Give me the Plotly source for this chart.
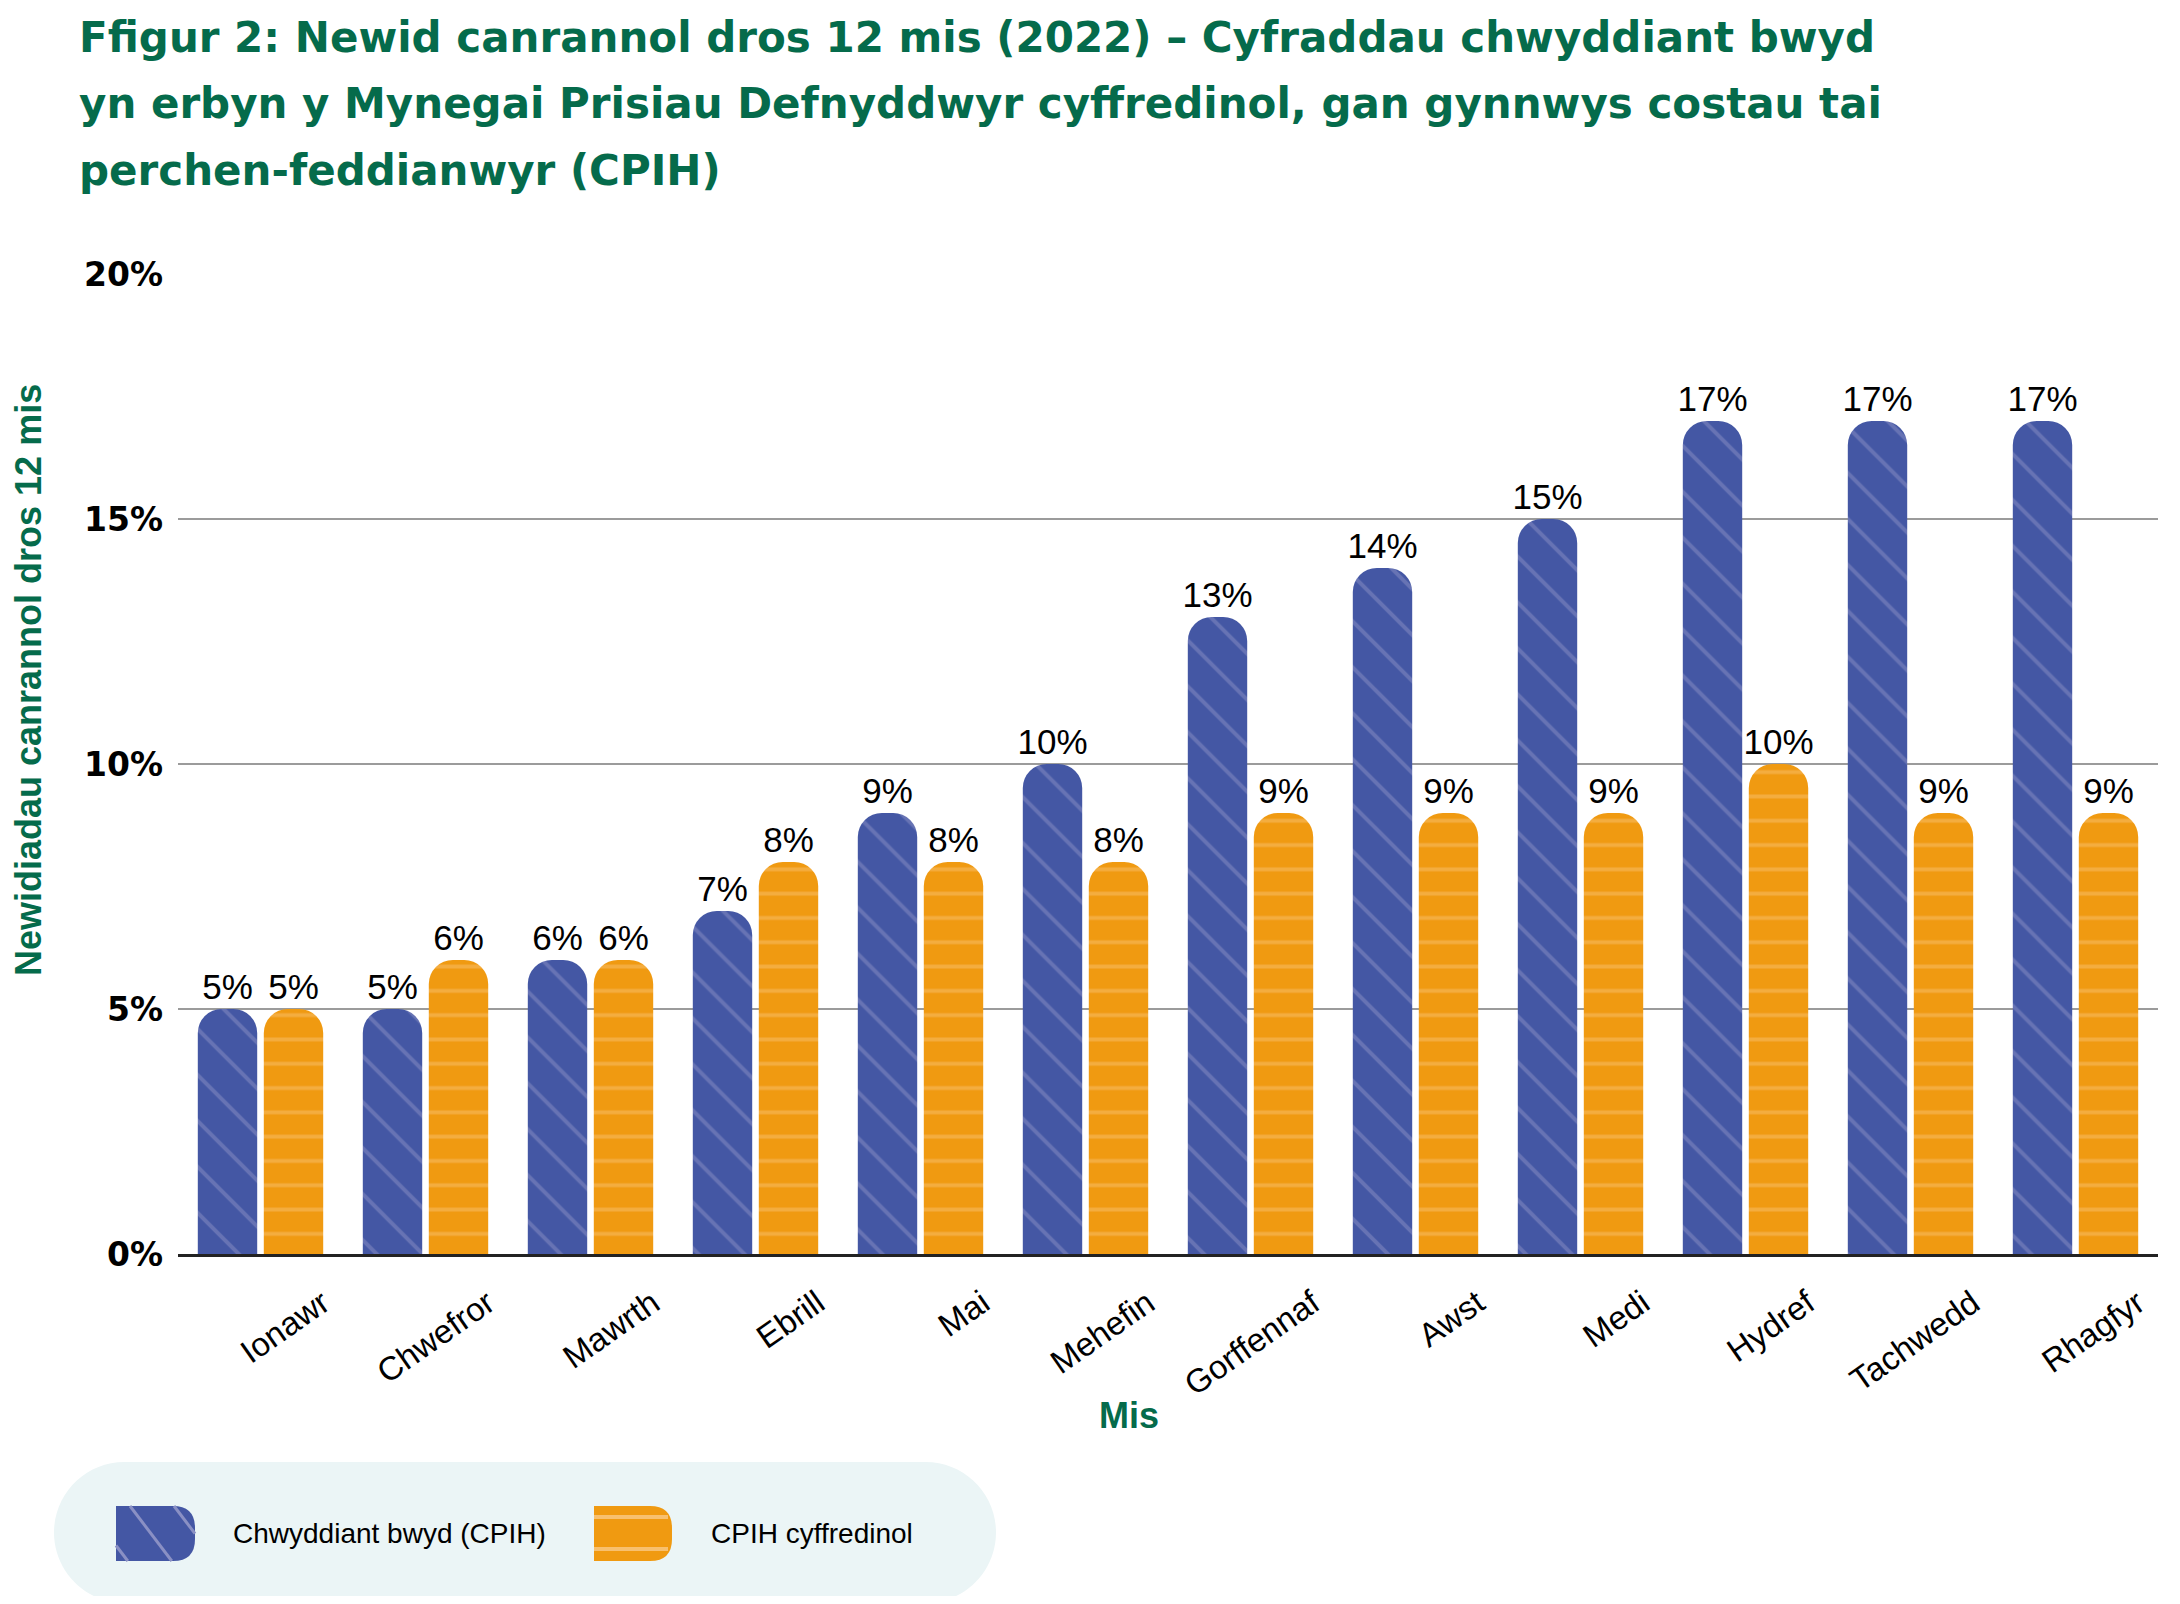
import plotly.graph_objects as go

months = ["Ionawr", "Chwefror", "Mawrth", "Ebrill", "Mai", "Mehefin",
          "Gorffennaf", "Awst", "Medi", "Hydref", "Tachwedd", "Rhagfyr"]
food_cpih = [5, 5, 6, 7, 9, 10, 13, 14, 15, 17, 17, 17]
cpih_overall = [5, 6, 6, 8, 8, 8, 9, 9, 9, 10, 9, 9]
series_names = ["Chwyddiant bwyd (CPIH)", "CPIH cyffredinol"]
y_ticks = [0, 5, 10, 15, 20]
y_ticktext = [f"{v}%" for v in y_ticks]

title_lines = [
    "Ffigur 2: Newid canrannol dros 12 mis (2022) – Cyfraddau chwyddiant bwyd",
    "yn erbyn y Mynegai Prisiau Defnyddwyr cyffredinol, gan gynnwys costau tai",
    "perchen-feddianwyr (CPIH)",
]

GREEN = "#056b4b"
BLUE = "#4457a4"
ORANGE = "#f09a11"
BLUE_LINE = "#8a90c4"
ORANGE_LINE = "#f8c06e"

# the page body has an 8px margin, so the figure is a bit smaller and
# every reference pixel position is shifted by O
O = 8
W, H = 2164, 1588
ML, MR, MT, MB = 170, 14, 266, 342
PW, PH = W - ML - MR, H - MT - MB


# reference pixel -> paper helpers
def fx(x):
    return (x - O - ML) / PW


def fy(y):
    return (H - MB - (y - O)) / PH


def pt(x, y):
    return f"{fx(x):.5f},{fy(y):.5f}"


def pill_path(x0, y0, x1, y1):
    r = (y1 - y0) / 2
    k = 0.5523 * r
    return (f"M{pt(x0 + r, y0)} L{pt(x1 - r, y0)} "
            f"C{pt(x1 - r + k, y0)} {pt(x1, y0 + r - k)} {pt(x1, y0 + r)} "
            f"C{pt(x1, y0 + r + k)} {pt(x1 - r + k, y1)} {pt(x1 - r, y1)} "
            f"L{pt(x0 + r, y1)} "
            f"C{pt(x0 + r - k, y1)} {pt(x0, y0 + r + k)} {pt(x0, y0 + r)} "
            f"C{pt(x0, y0 + r - k)} {pt(x0 + r - k, y0)} {pt(x0 + r, y0)} Z")


def icon_path(x0, y0, x1, y1, r):
    return (f"M{pt(x0, y0)} L{pt(x1 - r, y0)} Q{pt(x1, y0)} {pt(x1, y0 + r)} "
            f"L{pt(x1, y1 - r)} Q{pt(x1, y1)} {pt(x1 - r, y1)} L{pt(x0, y1)} Z")


label_font = dict(family="Liberation Sans, Arial", size=35, color="#000000")

fig = go.Figure()

fig.add_trace(go.Bar(
    x=months, y=food_cpih, name=series_names[0],
    marker=dict(color=BLUE, line_width=0,
                pattern=dict(shape="\\", fgcolor=BLUE_LINE, size=32.5, solidity=0.12)),
    text=[f"{v}%" for v in food_cpih], textposition="outside", constraintext="none",
    textfont=label_font, cliponaxis=False, showlegend=False,
))
fig.add_trace(go.Bar(
    x=months, y=cpih_overall, name=series_names[1],
    marker=dict(color=ORANGE, line_width=0,
                pattern=dict(shape="-", fgcolor=ORANGE_LINE, size=24.3, solidity=0.16)),
    text=[f"{v}%" for v in cpih_overall], textposition="outside", constraintext="none",
    textfont=label_font, cliponaxis=False, showlegend=False,
))

# legend built by hand: pill background, big rounded icons, real text
shapes = [dict(type="path", xref="paper", yref="paper", layer="below",
               path=pill_path(54, 1462, 996, 1603),
               fillcolor="#ebf5f6", line_width=0)]
for x0, x1, col in [(116, 195, BLUE), (594, 672, ORANGE)]:
    shapes.append(dict(type="path", xref="paper", yref="paper",
                       path=icon_path(x0, 1506, x1, 1561, 22),
                       fillcolor=col, line_width=0))

# diagonal stripes for the blue icon
s = 0.76
for xt in (86, 130, 174):
    ya = max(1506, 1506 + (116 - xt) / s)
    yb = min(1561, 1506 + (195 - xt) / s)
    xa = xt + s * (ya - 1506)
    xb = xt + s * (yb - 1506)
    shapes.append(dict(type="line", xref="paper", yref="paper",
                       x0=fx(xa), y0=fy(ya), x1=fx(xb), y1=fy(yb),
                       line=dict(color=BLUE_LINE, width=3)))
# horizontal stripes for the orange icon
for yy in (1517, 1549):
    shapes.append(dict(type="line", xref="paper", yref="paper",
                       x0=fx(594), y0=fy(yy), x1=fx(668), y1=fy(yy),
                       line=dict(color=ORANGE_LINE, width=4)))

title_font = dict(family="DejaVu Sans", size=42, color=GREEN, weight="bold")
annotations = []
for line, yc in zip(title_lines, [37, 103.5, 170]):
    annotations.append(dict(text=line, x=fx(77), y=fy(yc), xref="paper", yref="paper",
                            xanchor="left", yanchor="middle", showarrow=False,
                            font=title_font))

annotations += [
    dict(text="Mis", x=fx(1129), y=fy(1415), xref="paper", yref="paper",
         xanchor="center", yanchor="middle", showarrow=False,
         font=dict(family="Liberation Sans, Arial", size=36, color=GREEN, weight="bold")),
    dict(text="Newidiadau canrannol dros 12 mis", x=fx(28), y=fy(680),
         xref="paper", yref="paper", xanchor="center", yanchor="middle",
         textangle=-90, showarrow=False,
         font=dict(family="Liberation Sans, Arial", size=36, color=GREEN, weight="bold")),
    dict(text=series_names[0], x=fx(231), y=fy(1533), xref="paper", yref="paper",
         xanchor="left", yanchor="middle", showarrow=False,
         font=dict(family="Liberation Sans, Arial", size=28, color="#000000")),
    dict(text=series_names[1], x=fx(709), y=fy(1533), xref="paper", yref="paper",
         xanchor="left", yanchor="middle", showarrow=False,
         font=dict(family="Liberation Sans, Arial", size=28, color="#000000")),
]

fig.update_layout(
    width=W, height=H,
    margin=dict(l=ML, r=MR, t=MT, b=MB),
    paper_bgcolor="white", plot_bgcolor="white",
    barmode="group", bargap=0.2, bargroupgap=0.1, barcornerradius=24,
    showlegend=False,
    shapes=shapes, annotations=annotations,
)
fig.update_xaxes(
    type="category", tickangle=-35, ticks="",
    tickfont=dict(family="Liberation Sans, Arial", size=33, color="#000000"),
    ticklabelshift=62, ticklabelstandoff=14,
    showline=True, linecolor="#222222", linewidth=3, showgrid=False,
)
fig.update_yaxes(
    range=[0, 20], tickvals=y_ticks, ticktext=y_ticktext, ticks="",
    tickfont=dict(family="DejaVu Sans", size=33, color="#000000", weight="bold"),
    ticklabelstandoff=14,
    showgrid=True, gridcolor="#9b9b9b", gridwidth=2, zeroline=False,
)

fig.write_html("out.html")
